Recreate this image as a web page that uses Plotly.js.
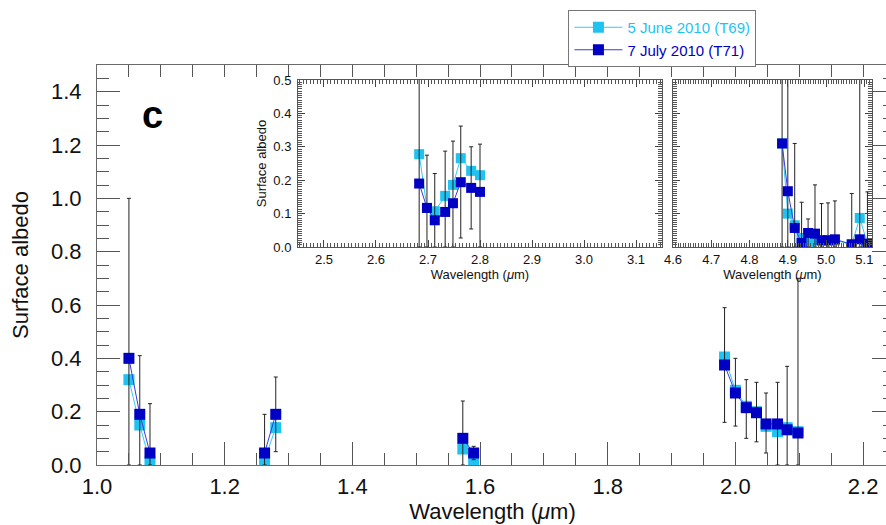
<!DOCTYPE html>
<html>
<head>
<meta charset="utf-8">
<script src="https://cdn.plot.ly/plotly-3.0.1.min.js"></script>
<style>
html,body{margin:0;padding:0;overflow:hidden;background:#fff;}
#chart{width:888px;height:525px;}
</style>
</head>
<body>
<div id="chart"></div>
<script>
// ---- Data ----
const seriesNames = ["5 June 2010 (T69)", "7 July 2010 (T71)"];

// Main panel (null separates the spectral windows)
const mainWavelength = [1.05, 1.067, 1.083, null, 1.2625, 1.28, null, 1.573, 1.59, null, 1.983, 2.0, 2.017, 2.033, 2.048, 2.066, 2.081, 2.098];
const mainJune = [0.32, 0.15, 0.01, null, 0.02, 0.14, null, 0.06, 0.02, null, 0.405, 0.28, 0.22, 0.20, 0.145, 0.125, 0.14, 0.125];
const mainJuly = [0.40, 0.19, 0.045, null, 0.045, 0.19, null, 0.10, 0.045, null, 0.375, 0.27, 0.215, 0.196, 0.154, 0.154, 0.132, 0.12];
const mainErrTop = [1.0, 0.41, 0.23, null, 0.19, 0.33, null, 0.24, 0.07, null, 0.59, 0.40, 0.32, 0.31, 0.27, 0.31, 0.37, 0.70];
const mainErrBottom = [0, 0, 0, null, 0, 0.05, null, 0, 0.02, null, 0.16, 0.146, 0.10, 0.087, 0.045, 0, 0, 0];

// Inset 1 (2.7 micron window)
const inset1Wavelength = [2.683, 2.698, 2.713, 2.733, 2.748, 2.763, 2.783, 2.80];
const inset1June = [0.278, 0.117, 0.107, 0.153, 0.186, 0.266, 0.228, 0.215];
const inset1July = [0.19, 0.117, 0.08, 0.105, 0.131, 0.194, 0.177, 0.165];
const inset1ErrTop = [0.6, 0.275, 0.22, 0.287, 0.317, 0.362, 0.30, 0.308];
const inset1ErrBottom = [0, 0, 0, 0, 0, 0.027, 0.054, 0];

// Inset 2 (5 micron window)
const inset2Wavelength = [4.885, 4.90, 4.918, 4.936, 4.953, 4.971, 4.988, 5.005, 5.023, 5.067, 5.088, 5.108];
const inset2June = [0.31, 0.10, 0.065, 0.027, 0.015, 0.02, 0.02, 0.02, 0.02, 0.008, 0.087, 0.01];
const inset2July = [0.31, 0.167, 0.057, 0.012, 0.042, 0.04, 0.02, 0.02, 0.023, 0.008, 0.023, 0.01];
const inset2ErrTop = [0.6, 0.6, 0.31, 0.134, 0.084, 0.186, 0.13, 0.132, 0.138, 0.16, 0.6, 0.165];
const inset2ErrBottom = [0, 0, 0, 0, 0, 0, 0, 0, 0, 0, 0, 0];

// ---- Styling ----
const LIGHT = "#1ec3f2";
const LIGHT_LINE = "#33ccf5";
const DARK = "#0000c4";
const DARK_LINE = "#3a3ae0";
const FONT = "Liberation Sans, Arial, Helvetica, sans-serif";

function plus(y, top){ return y.map((v,i)=> v==null ? null : Math.max(0, top[i]-v)); }
function minus(y, bot){ return y.map((v,i)=> v==null ? null : Math.max(0, v-bot[i])); }

function pair(x, june, july, top, bot, xa, ya, legend, msize){
  return [
    {x:x, y:june, xaxis:xa, yaxis:ya, type:"scatter", mode:"lines+markers",
     name:'<span style="color:'+LIGHT+'">'+seriesNames[0]+'</span>', showlegend:legend, legendgroup:"june",
     connectgaps:false, cliponaxis:true,
     line:{color:LIGHT_LINE, width:1}, marker:{symbol:"square", size:msize, color:LIGHT}},
    {x:x, y:july, xaxis:xa, yaxis:ya, type:"scatter", mode:"lines+markers",
     name:'<span style="color:'+DARK+'">'+seriesNames[1]+'</span>', showlegend:legend, legendgroup:"july",
     connectgaps:false, cliponaxis:true,
     line:{color:DARK_LINE, width:1}, marker:{symbol:"square", size:msize, color:DARK},
     error_y:{type:"data", symmetric:false, array:plus(july, top), arrayminus:minus(july, bot),
              color:"#222", thickness:1, width:2}}
  ];
}

const traces = [].concat(
  pair(mainWavelength, mainJune, mainJuly, mainErrTop, mainErrBottom, "x", "y", true, 11),
  pair(inset1Wavelength, inset1June, inset1July, inset1ErrTop, inset1ErrBottom, "x2", "y2", false, 10),
  pair(inset2Wavelength, inset2June, inset2July, inset2ErrTop, inset2ErrBottom, "x3", "y3", false, 10),
  [{x:[], y:[], xaxis:"x4", yaxis:"y", showlegend:false, hoverinfo:"skip"},
   {x:[], y:[], xaxis:"x", yaxis:"y4", showlegend:false, hoverinfo:"skip"}]
);

const AX_LINE = "#6a6a6a";
const insetTick = {family:FONT, size:13, color:"#111"};
function insetX(domain, range, anchor, title){
  return {domain:domain, anchor:anchor, range:range, tick0:2.5, dtick:0.1, tickformat:".1f",
    ticks:"inside", ticklen:7, tickcolor:"#444", showline:true, linecolor:"#555", linewidth:1, mirror:"ticks",
    minor:{dtick:0.1/15, ticks:"inside", ticklen:4, tickcolor:"#555"},
    showgrid:false, zeroline:false, tickfont:insetTick, ticklabelstandoff:0,
    title:{text:title, font:{family:FONT, size:13, color:"#111"}, standoff:0}};
}
function insetY(domain, anchor, labels, title){
  return {domain:domain, anchor:anchor, range:[0,0.5], dtick:0.1, tickformat:".1f",
    ticks:"inside", ticklen:7, tickcolor:"#444", showline:true, linecolor:"#555", linewidth:1, mirror:"ticks",
    minor:{dtick:0.1/15, ticks:"inside", ticklen:4, tickcolor:"#555"},
    showgrid:false, zeroline:false, showticklabels:labels, tickfont:insetTick, ticklabelstandoff:3,
    title:{text:title, font:{family:FONT, size:13, color:"#111"}, standoff:3}};
}

const yInset = [0.545, 0.9625];
const layout = {
  width:888, height:525,
  margin:{l:97, r:0, t:65, b:60},
  paper_bgcolor:"#fff", plot_bgcolor:"#fff",
  font:{family:FONT, color:"#111"},
  showlegend:true,
  legend:{x:0.596, y:1.1375, xanchor:"left", yanchor:"top", bgcolor:"#fff",
          bordercolor:"#777", borderwidth:1, font:{family:FONT, size:15},
          itemwidth:48, traceorder:"grouped", tracegroupgap:0},
  xaxis:{domain:[0,1], anchor:"y", range:[1.0, 2.239], tick0:1.0, dtick:0.2, tickformat:".1f",
    ticks:"inside", ticklen:23, tickcolor:"#555", showline:true, linecolor:AX_LINE, linewidth:1, mirror:true,
    minor:{dtick:0.05, ticks:"inside", ticklen:12, tickcolor:"#555"},
    showgrid:false, zeroline:false, tickfont:{family:FONT, size:22, color:"#111"}, ticklabelstandoff:2,
    title:{text:"Wavelength (<i>μ</i>m)", font:{family:FONT, size:22, color:"#111"}, standoff:5}},
  yaxis:{domain:[0,1], anchor:"x", range:[0, 1.5], dtick:0.2, tickformat:".1f",
    ticks:"inside", ticklen:23, tickcolor:"#555", showline:true, linecolor:AX_LINE, linewidth:1, mirror:true,
    minor:{dtick:0.05, ticks:"inside", ticklen:12, tickcolor:"#555"},
    showgrid:false, zeroline:false, tickfont:{family:FONT, size:22, color:"#111"}, ticklabelstandoff:10,
    title:{text:"Surface albedo", font:{family:FONT, size:22, color:"#111"}, standoff:16}},
  xaxis4:{overlaying:"x", side:"top", anchor:"y", range:[1.0, 2.239], tick0:1.0, dtick:0.05,
    ticks:"inside", ticklen:12, tickcolor:"#555", showticklabels:false, showline:false, showgrid:false, zeroline:false},
  yaxis4:{overlaying:"y", side:"right", anchor:"x", range:[0, 1.5], dtick:0.2,
    ticks:"inside", ticklen:16, tickcolor:"#555", showticklabels:false, showline:false, showgrid:false, zeroline:false,
    minor:{dtick:0.05, ticks:"inside", ticklen:5, tickcolor:"#555"}},
  xaxis2:insetX([0.2541, 0.7143], [2.45, 3.15], "y2", "Wavelength (<i>μ</i>m)"),
  yaxis2:insetY(yInset, "x2", true, "Surface albedo"),
  xaxis3:Object.assign(insetX([0.7282, 0.9798], [4.6, 5.12], "y3", "Wavelength (<i>μ</i>m)"), {tick0:4.6}),
  yaxis3:insetY(yInset, "x3", false, ""),
  annotations:[
    {text:"<b>c</b>", xref:"paper", yref:"paper", x:0.07, y:0.875, xanchor:"center", yanchor:"middle",
     showarrow:false, font:{family:FONT, size:38, color:"#000"}}
  ]
};

Plotly.newPlot("chart", traces, layout, {displayModeBar:false, staticPlot:true});
</script>
</body>
</html>
